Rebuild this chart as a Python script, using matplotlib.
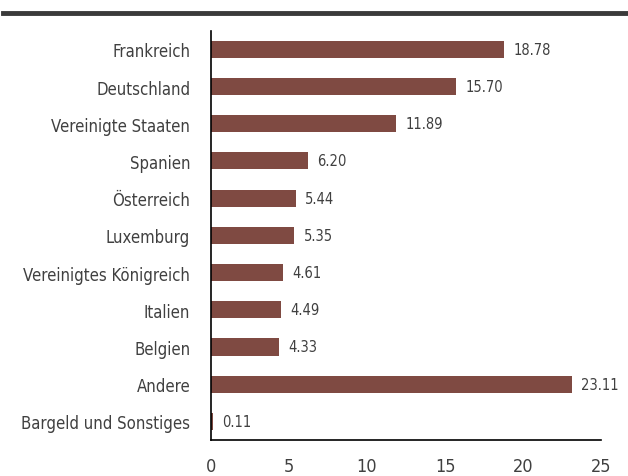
import matplotlib.pyplot as plt
from matplotlib.lines import Line2D

plt.rcParams["font.family"] = ["DejaVu Sans"]
plt.rcParams["font.stretch"] = "condensed"

countries = [
    "Frankreich", "Deutschland", "Vereinigte Staaten", "Spanien", "Österreich",
    "Luxemburg", "Vereinigtes Königreich", "Italien", "Belgien", "Andere",
    "Bargeld und Sonstiges",
]
shares = [18.78, 15.70, 11.89, 6.20, 5.44, 5.35, 4.61, 4.49, 4.33, 23.11, 0.11]
xticks = [0, 5, 10, 15, 20, 25]

bar_color = "#7f4a42"
text_color = "#404040"

fig = plt.figure(figsize=(6.28, 4.77), dpi=100)
ax = fig.add_axes([0.336, 0.0755, 0.621, 0.858])

pos = list(range(len(countries)))
ax.barh(pos, shares, height=0.46, color=bar_color)
for y, v in zip(pos, shares):
    ax.text(v + 0.6, y, f"{v:.2f}", va="center", ha="left", fontsize=10.5, color=text_color)

ax.set_yticks(pos)
ax.set_yticklabels(countries, fontsize=12, color=text_color)
ax.set_xticks(xticks)
ax.set_xticklabels([str(t) for t in xticks], fontsize=13, color=text_color)
ax.set_xlim(0, 25)
ax.set_ylim(10.5, -0.5)
ax.tick_params(length=0)
ax.tick_params(axis="y", pad=15)
ax.tick_params(axis="x", pad=12)
for s in ["top", "right"]:
    ax.spines[s].set_visible(False)
for s in ["left", "bottom"]:
    ax.spines[s].set_color("black")
    ax.spines[s].set_linewidth(1.2)

# heavy rule at the top of the figure
fig.add_artist(Line2D([0.005, 1.0], [0.97, 0.97], transform=fig.transFigure,
                      color="#3a3a3a", linewidth=3.5))

fig.savefig("out.png", dpi=100)
